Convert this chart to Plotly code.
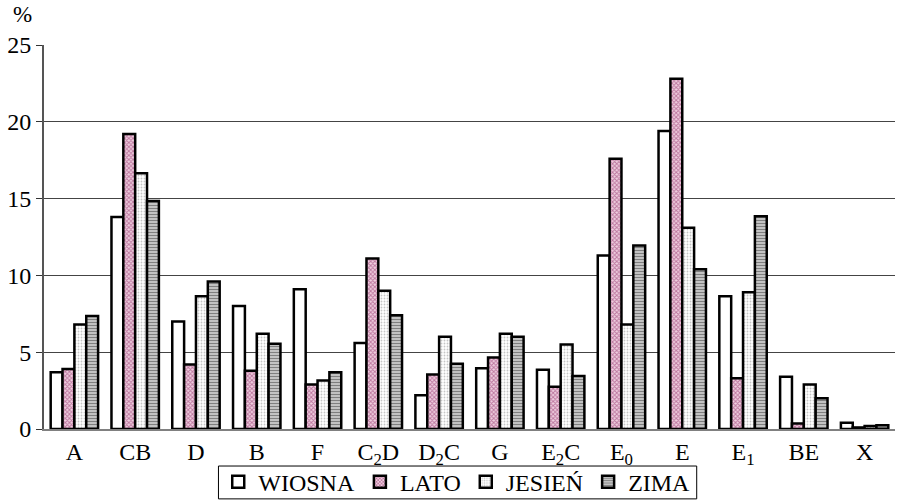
import plotly.graph_objects as go

categories = ["A", "CB", "D", "B", "F", "C<sub>2</sub>D", "D<sub>2</sub>C", "G",
              "E<sub>2</sub>C", "E<sub>0</sub>", "E", "E<sub>1</sub>", "BE", "X"]

wiosna = [3.7, 13.8, 7.0, 8.0, 9.1, 5.6, 2.2, 3.95, 3.85, 11.3, 19.4, 8.65, 3.4, 0.4]
lato   = [3.9, 19.2, 4.2, 3.8, 2.9, 11.1, 3.55, 4.65, 2.75, 17.6, 22.8, 3.3, 0.35, 0.1]
jesien = [6.8, 16.65, 8.65, 6.2, 3.15, 9.0, 6.0, 6.2, 5.5, 6.8, 13.1, 8.9, 2.9, 0.2]
zima   = [7.35, 14.85, 9.6, 5.55, 3.7, 7.4, 4.25, 6.0, 3.45, 11.95, 10.4, 13.85, 2.0, 0.25]

y_ticks = [0, 5, 10, 15, 20, 25]

FONT = "Liberation Serif, serif"

series = [
    ("WIOSNA", wiosna, dict(shape="", bgcolor="white")),
    ("LATO", lato, dict(shape="x", fgcolor="#8a2060", bgcolor="#f0d0e0", size=3, solidity=0.55)),
    ("JESIEŃ", jesien, dict(shape=".", fgcolor="#8c8c8c", bgcolor="white", size=3, solidity=0.3)),
    ("ZIMA", zima, dict(shape="-", fgcolor="black", bgcolor="white", size=3, solidity=0.65)),
]

fig = go.Figure()
for name, vals, pattern in series:
    fig.add_trace(go.Bar(
        name=name,
        x=categories,
        y=vals,
        marker=dict(color="white", line=dict(color="black", width=2.5), pattern=pattern),
    ))

fig.update_layout(
    width=898, height=501,
    margin=dict(l=44, r=3, t=45, b=72, autoexpand=False),
    paper_bgcolor="white",
    plot_bgcolor="white",
    barmode="group",
    bargap=0.22,
    bargroupgap=0,
    font=dict(family=FONT, size=24, color="black"),
    legend=dict(
        orientation="h",
        x=0.485, xanchor="center",
        y=-0.08, yanchor="top",
        bgcolor="rgba(0,0,0,0)",
        borderwidth=0,
        font=dict(family=FONT, size=24, color="black"),
        itemwidth=30,
        tracegroupgap=0,
    ),
    xaxis=dict(
        showgrid=False,
        showline=True, linecolor="#808080", linewidth=2,
        ticks="", tickfont=dict(family=FONT, size=24, color="black"),
    ),
    yaxis=dict(
        range=[0, 25],
        tickvals=y_ticks,
        showgrid=True, gridcolor="#444444", gridwidth=1,
        showline=True, linecolor="#555555", linewidth=2,
        ticks="outside", ticklen=6, tickcolor="#333333",
        tickfont=dict(family=FONT, size=24, color="black"),
        zeroline=False,
    ),
    # frame around the legend
    shapes=[dict(
        type="rect", xref="paper", yref="paper",
        x0=0.205, x1=0.767, y0=-0.0964, y1=-0.182,
        line=dict(color="black", width=1), fillcolor="rgba(0,0,0,0)",
        layer="above",
    )],
    annotations=[dict(
        text="%", xref="paper", yref="paper", x=-0.025, y=1.0, yshift=16,
        xanchor="center", yanchor="bottom", showarrow=False,
        font=dict(family=FONT, size=23, color="black"),
    )],
)

fig.write_html("out.html")
